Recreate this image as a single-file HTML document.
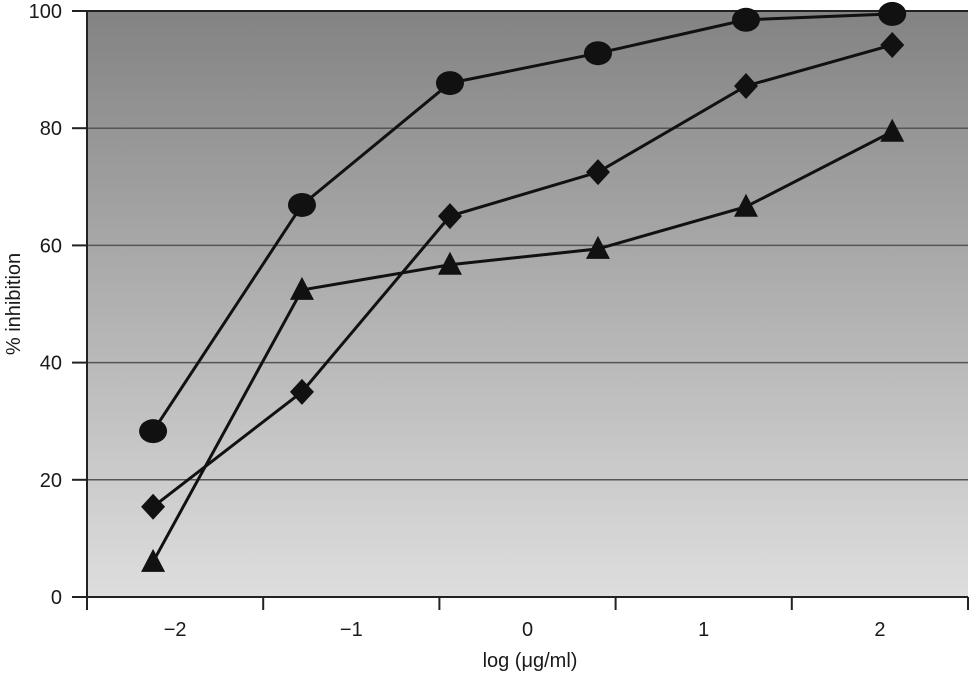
<!DOCTYPE html>
<html><head><meta charset="utf-8"><style>
body{margin:0;background:#fff;}
svg text{font-family:"Liberation Sans",sans-serif;fill:#1a1a1a;}
</style></head><body>
<svg id="chart" width="970" height="674" viewBox="0 0 970 674" xmlns="http://www.w3.org/2000/svg">
<defs><linearGradient id="bg" x1="0" y1="0" x2="0" y2="1">
<stop offset="0" stop-color="#838383"/><stop offset="1" stop-color="#dedede"/></linearGradient></defs>
<rect x="87" y="11" width="881" height="586" fill="url(#bg)"/>
<g id="grid"></g><g id="axes"></g><g id="series"></g>
<text transform="translate(20,304) rotate(-90)" text-anchor="middle" font-size="20">% inhibition</text>
<text x="530" y="667" text-anchor="middle" font-size="20">log (μg/ml)</text>
</svg>
<script>
const xLabels = ["−2","−1","0","1","2"];
const yTicks = [0,20,40,60,80,100];
const xValues = [-2.125,-1.28,-0.44,0.40,1.24,2.07];
const circleValues = [28.3,66.9,87.7,92.8,98.5,99.5];
const diamondValues = [15.4,35,65,72.5,87.2,94.2];
const triangleValues = [6,52.4,56.7,59.4,66.6,79.4];

const NS="http://www.w3.org/2000/svg";
const L=87,R=968,T=11,B=597,band=(R-L)/5;
const xs=v=>L+band*(v+2.5);
const ys=v=>B-(B-T)*v/100;
function mk(tag,attrs,parent){const e=document.createElementNS(NS,tag);for(const k in attrs)e.setAttribute(k,attrs[k]);parent.appendChild(e);return e;}
const grid=document.getElementById('grid'),axes=document.getElementById('axes'),ser=document.getElementById('series');
yTicks.forEach(t=>{
  if(t>0&&t<100){const g=mk('line',{x1:L,x2:R,y1:ys(t),y2:ys(t),stroke:'#555','stroke-width':1.5},grid);
  
  }
  const tk=mk('line',{x1:72,x2:L,y1:ys(t),y2:ys(t),stroke:'#222','stroke-width':2},axes);
  
  
  const tx=mk('text',{x:62,y:ys(t)+7,'text-anchor':'end','font-size':20},axes);tx.textContent=t;
  
  
});
const topBorder=mk('line',{x1:L,x2:R,y1:T,y2:T,stroke:'#222','stroke-width':2},axes);


const ya=mk('line',{x1:L,x2:L,y1:T,y2:B,stroke:'#222','stroke-width':2},axes);


const xa=mk('line',{x1:L,x2:R,y1:B,y2:B,stroke:'#222','stroke-width':2},axes);


for(let i=0;i<=5;i++){const tk=mk('line',{x1:L+band*i,x2:L+band*i,y1:B,y2:610,stroke:'#222','stroke-width':2},axes);
  
  }
xLabels.forEach((lb,i)=>{const tx=mk('text',{x:L+band*(i+0.5),y:636,'text-anchor':'middle','font-size':20},axes);tx.textContent=lb;
  
  });
function series(vals,name,shape){
  const pts=vals.map((v,i)=>xs(xValues[i])+','+ys(v)).join(' ');
  const pl=mk('polyline',{points:pts,fill:'none',stroke:'#111','stroke-width':3},ser);
  
  
  vals.forEach((v,i)=>{const x=xs(xValues[i]),y=ys(v);let m;
    if(shape==='c')m=mk('ellipse',{cx:x,cy:y,rx:14,ry:12,fill:'#111'},ser);
    else if(shape==='d')m=mk('polygon',{points:`${x},${y-13} ${x+12},${y} ${x},${y+13} ${x-12},${y}`,fill:'#111'},ser);
    else m=mk('polygon',{points:`${x},${y-13} ${x+12},${y+10} ${x-12},${y+10}`,fill:'#111'},ser);
    
    });
}
series(triangleValues,'triangle-series','t');
series(diamondValues,'diamond-series','d');
series(circleValues,'circle-series','c');
</script>
</body></html>
